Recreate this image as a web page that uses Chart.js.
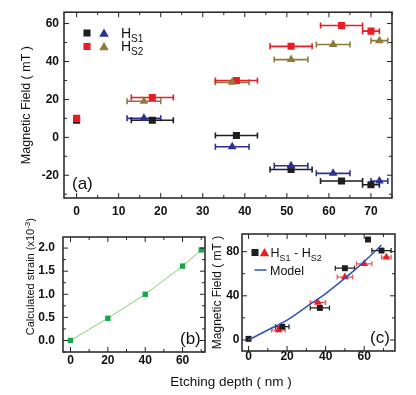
<!DOCTYPE html>
<html>
<head>
<meta charset="utf-8">
<script src="https://cdn.jsdelivr.net/npm/chart.js@4/dist/chart.umd.min.js"></script>
<style>
  body { margin: 0; background: #fff; width: 416px; height: 395px; position: relative; overflow: hidden; }
  canvas { position: absolute; }
  #xlabel { position: absolute; left: 111px; width: 240px; top: 374px; text-align: center;
            font: 13.5px "Liberation Sans", Arial, sans-serif; color: #111; }
</style>
</head>
<body>
<canvas id="chartA" width="416" height="225" style="left:0;top:0"></canvas>
<canvas id="chartB" width="210" height="160" style="left:0;top:215px"></canvas>
<canvas id="chartC" width="211" height="160" style="left:205px;top:215px"></canvas>
<div id="xlabel">Etching depth ( nm )</div>
<script>
// (a) switching fields
const depthSq = [0, 18, 38, 51, 63, 70];
const depthTri = [16, 37, 51, 61, 72];
const errSq = [0, 5, 5, 5, 5, 2];
const errTri = [4, 4, 4, 4, 2];
const hs1Sq = [9, 9, 1, -17, -23, -25];
const hs1Tri = [10, -5, -15, -19, -23];
const hs2Sq = [10, 21, 30, 48, 59, 56];
const hs2Tri = [19, 29, 41, 49, 51];

// (b) calculated strain
const strainDepth = [0, 20, 40, 60, 70];
const strainVal = [0.0, 0.48, 1.0, 1.61, 1.96];

// (c) HS1 - HS2 and model
const diffSqDepth = [0, 17.5, 37, 50, 62, 69];
const diffSq = [1, 12, 29, 65, 91, 81];
const diffSqErr = [0, 3.5, 5, 5, 0, 5];
const diffTriDepth = [15.5, 36, 50, 60, 71.5];
const diffTri = [9, 34, 57, 69, 75];
const diffTriErr = [3.5, 4, 4, 4, 2.5];
const modelDepth = [0, 10, 20, 30, 40, 50, 60, 69];
const modelField = [0, 9, 18, 30, 42, 56, 71, 86];

const FONT = '"Liberation Sans", Arial, sans-serif';
Chart.defaults.font.family = FONT;
Chart.defaults.color = '#111';

const pts = (xs, ys) => xs.map((x, i) => ({x: x, y: ys[i]}));

// text with sub/superscripts: parts = [[text, 'sub'|'sup'|'']]
function drawRich(ctx, parts, x, y, size, align, rotate) {
  ctx.save();
  ctx.translate(x, y);
  if (rotate) ctx.rotate(rotate);
  const small = size * 0.72;
  let total = 0;
  parts.forEach(([t, k]) => {
    ctx.font = (k ? small : size) + 'px ' + FONT;
    total += ctx.measureText(t).width;
  });
  let cx = align === 'center' ? -total / 2 : 0;
  ctx.textBaseline = 'alphabetic';
  ctx.textAlign = 'left';
  parts.forEach(([t, k]) => {
    ctx.font = (k ? small : size) + 'px ' + FONT;
    const dy = k === 'sub' ? size * 0.3 : k === 'sup' ? -size * 0.4 : 0;
    ctx.fillText(t, cx, dy);
    cx += ctx.measureText(t).width;
  });
  ctx.restore();
}

function drawMarker(ctx, shape, color, x, y, r) {
  ctx.save();
  ctx.fillStyle = color;
  ctx.strokeStyle = color;
  ctx.beginPath();
  if (shape === 'rect') {
    const s = r * Math.SQRT1_2;
    ctx.rect(x - s, y - s, 2 * s, 2 * s);
    ctx.fill();
  } else if (shape === 'triangle') {
    ctx.moveTo(x, y - r);
    ctx.lineTo(x + r * 0.866, y + r * 0.5);
    ctx.lineTo(x - r * 0.866, y + r * 0.5);
    ctx.closePath();
    ctx.fill();
  } else {
    ctx.lineWidth = 1.5;
    ctx.moveTo(x - 6, y); ctx.lineTo(x + 6, y);
    ctx.stroke();
  }
  ctx.restore();
}

const framePlugin = {
  id: 'frame',
  beforeDatasetsDraw(chart, args, opts) {
    // horizontal error bars, under the markers
    const {ctx, scales: {x: xs, y: ys}} = chart;
    chart.data.datasets.forEach(ds => {
      if (!ds.xerr) return;
      ctx.save();
      ctx.strokeStyle = ds.errColor || ds.backgroundColor;
      ctx.lineWidth = opts.errWidth || 1.5;
      ctx.beginPath();
      ds.data.forEach((p, i) => {
        const e = ds.xerr[i];
        if (!e) return;
        const x0 = xs.getPixelForValue(p.x - e);
        const x1 = xs.getPixelForValue(p.x + e);
        const y = ys.getPixelForValue(p.y);
        const c = opts.cap || 3;
        ctx.moveTo(x0, y); ctx.lineTo(x1, y);
        ctx.moveTo(x0, y - c); ctx.lineTo(x0, y + c);
        ctx.moveTo(x1, y - c); ctx.lineTo(x1, y + c);
      });
      ctx.stroke();
      ctx.restore();
    });
  },
  afterDraw(chart, args, opts) {
    const {ctx, chartArea: a, scales: {x: xs, y: ys}} = chart;
    ctx.save();
    ctx.strokeStyle = '#222';
    ctx.lineWidth = 1;
    ctx.beginPath();
    [[xs, opts.xMinor], [ys, opts.yMinor]].forEach(([s, minor]) => {
      for (let v = Math.ceil(s.min / minor) * minor; v <= s.max + 1e-9; v += minor) {
        const major = s.ticks.some(t => Math.abs(t.value - v) < 1e-6);
        const len = major ? 5 : 3;
        const p = s.getPixelForValue(v);
        if (s === xs) {
          ctx.moveTo(p, a.bottom); ctx.lineTo(p, a.bottom - len);
          ctx.moveTo(p, a.top); ctx.lineTo(p, a.top + len);
        } else {
          ctx.moveTo(a.left, p); ctx.lineTo(a.left + len, p);
          ctx.moveTo(a.right, p); ctx.lineTo(a.right - len, p);
        }
      }
    });
    ctx.stroke();
    ctx.lineWidth = 1.5;
    ctx.strokeRect(a.left, a.top, a.right - a.left, a.bottom - a.top);
    ctx.restore();

    ctx.fillStyle = '#111';
    (opts.legend || []).forEach(m => drawMarker(ctx, m.shape, m.color, m.x, m.y, m.r));
    (opts.texts || []).forEach(t => drawRich(ctx, t.parts, t.x, t.y, t.size, t.align, t.rotate));
  }
};
Chart.register(framePlugin);

const tickFont = {size: 12, weight: 'bold'};

function axes(o) {
  return {
    x: {
      type: 'linear', min: o.xmin, max: o.xmax,
      grid: {display: false, drawTicks: false}, border: {display: false},
      ticks: {stepSize: o.xstep, includeBounds: false, font: tickFont, padding: o.xpad, color: '#111'},
      afterFit: s => { s.height = o.xh; }
    },
    y: {
      type: 'linear', min: o.ymin, max: o.ymax,
      grid: {display: false, drawTicks: false}, border: {display: false},
      ticks: {stepSize: o.ystep, includeBounds: false, font: tickFont, padding: o.ypad, color: '#111',
              callback: o.yfmt || (v => v)},
      title: o.ytitle ? {display: true, text: o.ytitle, font: {size: o.ytsize}, color: '#111',
                         padding: {top: o.ytpad, bottom: 0}} : {display: false},
      afterFit: s => { s.width = o.yw; }
    }
  };
}

const base = {responsive: false, animation: false, devicePixelRatio: 1, events: []};

// ---- (a)
new Chart(document.getElementById('chartA'), {
  type: 'scatter',
  data: {
    datasets: [
      {label: 'HS2 tri', data: pts(depthTri, hs2Tri), xerr: errTri, pointStyle: 'triangle',
       pointRadius: 5, backgroundColor: '#8d7b3d', borderWidth: 0},
      {label: 'HS2 sq', data: pts(depthSq, hs2Sq), xerr: errSq, pointStyle: 'rect',
       pointRadius: 5, backgroundColor: '#ec1c24', borderWidth: 0},
      {label: 'HS1 tri', data: pts(depthTri, hs1Tri), xerr: errTri, pointStyle: 'triangle',
       pointRadius: 5, backgroundColor: '#2b3192', borderWidth: 0},
      {label: 'HS1 sq', data: pts(depthSq, hs1Sq), xerr: errSq, pointStyle: 'rect',
       pointRadius: 5, backgroundColor: '#1e1e1e', borderWidth: 0}
    ]
  },
  options: Object.assign({}, base, {
    layout: {padding: {top: 12, right: 24, left: 0, bottom: 0}},
    scales: axes({xmin: -3, xmax: 75, xstep: 10, xpad: 6.5, xh: 27,
                  ymin: -32, ymax: 66, ystep: 20, ypad: 5, yw: 64,
                  ytitle: 'Magnetic Field ( mT )', ytsize: 12.5, ytpad: 19}),
    plugins: {
      legend: {display: false}, tooltip: {enabled: false},
      frame: {
        xMinor: 5, yMinor: 10, cap: 3, errWidth: 1.6,
        legend: [
          {shape: 'rect', color: '#1e1e1e', x: 87, y: 33, r: 5},
          {shape: 'triangle', color: '#2b3192', x: 104, y: 34, r: 5.5},
          {shape: 'rect', color: '#ec1c24', x: 87, y: 46.5, r: 5},
          {shape: 'triangle', color: '#8d7b3d', x: 104, y: 47.5, r: 5.5}
        ],
        texts: [
          {parts: [['H', ''], ['S1', 'sub']], x: 121, y: 38, size: 14},
          {parts: [['H', ''], ['S2', 'sub']], x: 121, y: 51, size: 14},
          {parts: [['(a)', '']], x: 72, y: 189, size: 17}
        ]
      }
    }
  })
});

// ---- (b)
new Chart(document.getElementById('chartB'), {
  type: 'scatter',
  data: {
    datasets: [
      {label: 'strain', data: pts(strainDepth, strainVal), showLine: true, borderColor: '#7dd36a',
       borderWidth: 1, pointStyle: 'rect', pointRadius: 3.8, backgroundColor: '#17a64a',
       pointBorderWidth: 0}
    ]
  },
  options: Object.assign({}, base, {
    layout: {padding: {top: 22, right: 5, left: 0, bottom: 0}},
    scales: axes({xmin: -4, xmax: 72, xstep: 20, xpad: 1.5, xh: 23,
                  ymin: -0.25, ymax: 2.24, ystep: 0.5, ypad: 8, yw: 63,
                  yfmt: v => v.toFixed(1)}),
    plugins: {
      legend: {display: false}, tooltip: {enabled: false},
      frame: {
        xMinor: 10, yMinor: 0.25,
        texts: [
          {parts: [['Calculated strain (x10', ''], ['-3', 'sup'], [')', '']], x: 34, y: 61.7,
           size: 11, align: 'center', rotate: -Math.PI / 2},
          {parts: [['(b)', '']], x: 180, y: 129, size: 17}
        ]
      }
    }
  })
});

// ---- (c)
new Chart(document.getElementById('chartC'), {
  type: 'scatter',
  data: {
    datasets: [
      {label: 'model', type: 'line', data: pts(modelDepth, modelField), borderColor: '#2e54b4',
       borderWidth: 1.5, pointRadius: 0, tension: 0.3, fill: false},
      {label: 'HS1-HS2 sq', data: pts(diffSqDepth, diffSq), xerr: diffSqErr, errColor: '#1e1e1e',
       pointStyle: 'rect', pointRadius: 4.2, backgroundColor: '#1e1e1e', borderWidth: 0},
      {label: 'HS1-HS2 tri', data: pts(diffTriDepth, diffTri), xerr: diffTriErr, errColor: '#f0545a',
       pointStyle: 'triangle', pointRadius: 4.5, backgroundColor: '#ec1c24', borderWidth: 0}
    ]
  },
  options: Object.assign({}, base, {
    layout: {padding: {top: 19, right: 21, left: 0, bottom: 0}},
    scales: axes({xmin: -3.4, xmax: 76, xstep: 20, xpad: -1.5, xh: 24,
                  ymin: -10, ymax: 96, ystep: 40, ypad: 2.5, yw: 37,
                  ytitle: 'Magnetic Field ( mT )', ytsize: 12, ytpad: 5.8}),
    plugins: {
      legend: {display: false}, tooltip: {enabled: false},
      frame: {
        xMinor: 10, yMinor: 20, cap: 2.5, errWidth: 1.2,
        legend: [
          {shape: 'rect', color: '#1e1e1e', x: 50, y: 37.5, r: 5},
          {shape: 'triangle', color: '#ec1c24', x: 59.5, y: 38.5, r: 5.5},
          {shape: 'line', color: '#2e54b4', x: 55.5, y: 55}
        ],
        texts: [
          {parts: [['H', ''], ['S1', 'sub'], [' - H', ''], ['S2', 'sub']], x: 65.5, y: 42, size: 12.5},
          {parts: [['Model', '']], x: 65, y: 60, size: 12.5},
          {parts: [['(c)', '']], x: 165, y: 128, size: 17}
        ]
      }
    }
  })
});
</script>
</body>
</html>
